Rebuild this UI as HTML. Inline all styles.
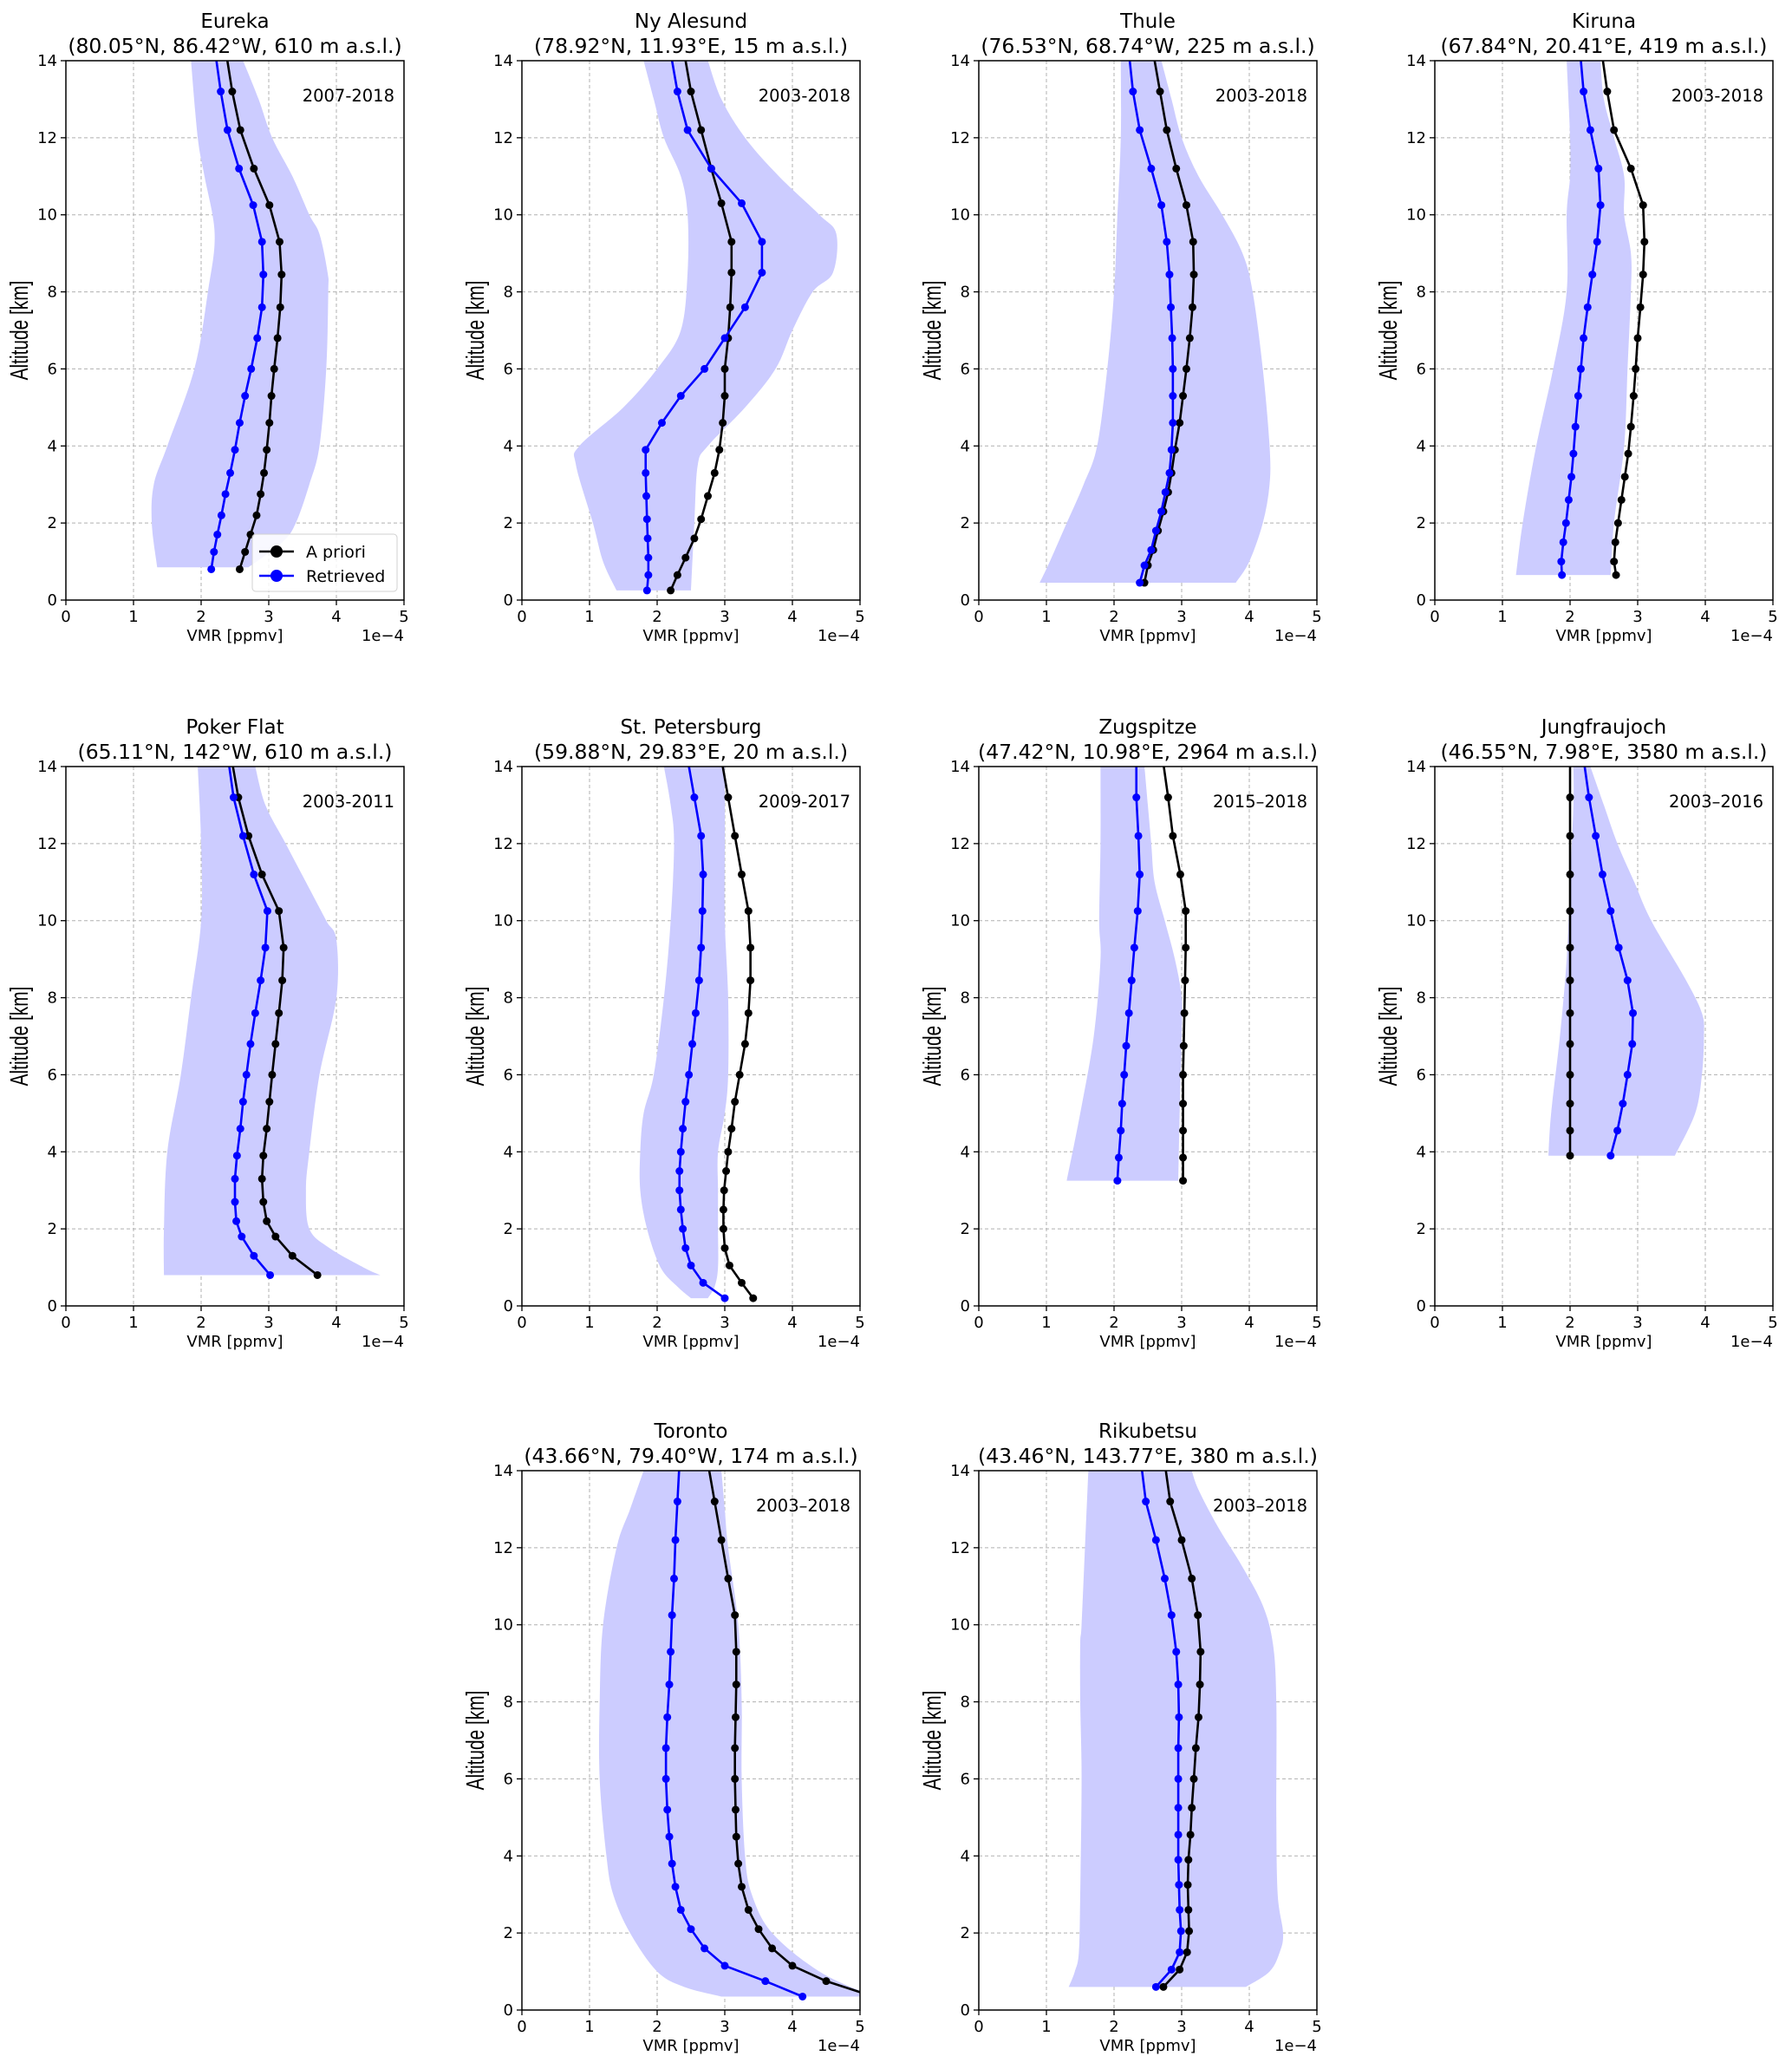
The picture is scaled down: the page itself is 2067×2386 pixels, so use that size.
<!DOCTYPE html>
<html><head><meta charset="utf-8"><style>
html,body{margin:0;padding:0;background:#fff;}
svg{display:block;font-family:"DejaVu Sans","Liberation Sans",sans-serif;}
</style></head><body>
<svg id="fig" width="2067" height="2386" viewBox="0 0 2067 2386" xmlns="http://www.w3.org/2000/svg"></svg>
<script>
// ---- data (VMR in units of 1e-4 ppmv, altitude km) ----
const stationNames = ["Eureka","Ny Alesund","Thule","Kiruna","Poker Flat","St. Petersburg","Zugspitze","Jungfraujoch","Toronto","Rikubetsu"];
const stationCoords = ["(80.05°N, 86.42°W, 610 m a.s.l.)","(78.92°N, 11.93°E, 15 m a.s.l.)","(76.53°N, 68.74°W, 225 m a.s.l.)","(67.84°N, 20.41°E, 419 m a.s.l.)","(65.11°N, 142°W, 610 m a.s.l.)","(59.88°N, 29.83°E, 20 m a.s.l.)","(47.42°N, 10.98°E, 2964 m a.s.l.)","(46.55°N, 7.98°E, 3580 m a.s.l.)","(43.66°N, 79.40°W, 174 m a.s.l.)","(43.46°N, 143.77°E, 380 m a.s.l.)"];
const periods = ["2007-2018","2003-2018","2003-2018","2003-2018","2003-2011","2009-2017","2015–2018","2003–2016","2003–2018","2003–2018"];
const xTicks = [0,1,2,3,4,5];
const yTicks = [0,2,4,6,8,10,12,14];

const altEureka = [0.8,1.25,1.7,2.2,2.75,3.3,3.9,4.6,5.3,6.0,6.8,7.6,8.45,9.3,10.25,11.2,12.2,13.2,14.2];
const aprEureka = [2.57,2.65,2.73,2.82,2.88,2.93,2.97,3.01,3.04,3.08,3.13,3.17,3.19,3.16,3.01,2.78,2.58,2.46,2.37];
const retEureka = [2.15,2.19,2.24,2.30,2.36,2.43,2.50,2.57,2.65,2.74,2.83,2.90,2.92,2.90,2.77,2.56,2.39,2.29,2.21];
const bandAltEureka = [0.85,2,3,4,6,8,9.5,11,12,14];
const bandLoEureka = [1.35,1.27,1.3,1.5,1.9,2.1,2.2,2.05,1.95,1.85];
const bandHiAltEureka = [0.85,1.5,2,3,4,6,8,8.5,9.5,10,11,12,13,14];
const bandHiEureka = [2.7,3.2,3.4,3.6,3.75,3.85,3.88,3.87,3.75,3.6,3.35,3.05,2.85,2.62];

const altNy = [0.25,0.65,1.1,1.6,2.1,2.7,3.3,3.9,4.6,5.3,6.0,6.8,7.6,8.5,9.3,10.3,11.2,12.2,13.2,14.2];
const aprNy = [2.2,2.3,2.42,2.55,2.65,2.75,2.85,2.92,2.97,3.0,3.0,3.05,3.08,3.1,3.1,2.95,2.8,2.65,2.5,2.4];
const retNy = [1.85,1.87,1.87,1.86,1.85,1.84,1.83,1.83,2.07,2.35,2.7,3.0,3.3,3.55,3.55,3.25,2.8,2.45,2.3,2.2];
const bandAltNy = [0.25,1,2,3.5,4,5,6,7,8.5,10,11,12,13,14];
const bandLoNy = [1.4,1.2,1.05,0.8,0.85,1.5,2.0,2.35,2.45,2.45,2.35,2.1,1.95,1.8];
const bandHiAltNy = [0.25,2,3.5,4,5,6,7,8,8.5,9.5,10,11,12,13,14];
const bandHiNy = [2.5,2.55,2.6,2.75,3.3,3.75,4.0,4.3,4.6,4.65,4.4,3.8,3.3,2.95,2.75];

const altThule = [0.45,0.9,1.3,1.8,2.3,2.8,3.3,3.9,4.6,5.3,6.0,6.8,7.6,8.45,9.3,10.25,11.2,12.2,13.2,14.2];
const aprThule = [2.45,2.5,2.58,2.65,2.73,2.8,2.85,2.9,2.97,3.02,3.07,3.12,3.16,3.18,3.17,3.07,2.92,2.78,2.68,2.58];
const retThule = [2.38,2.45,2.55,2.62,2.70,2.76,2.82,2.85,2.87,2.87,2.87,2.86,2.84,2.82,2.78,2.70,2.55,2.38,2.28,2.22];
const bandAltThule = [0.45,1,2,3,4,6,8,10,12,14];
const bandLoThule = [0.9,1.05,1.3,1.55,1.75,1.9,2.0,2.05,2.1,2.1];
const bandHiAltThule = [0.45,1,2,3,4,6,8,9,10,11,12,13,14];
const bandHiThule = [3.8,4.0,4.2,4.3,4.3,4.2,4.05,3.9,3.6,3.25,3.0,2.85,2.7];

const altKiruna = [0.65,1.0,1.5,2.0,2.6,3.2,3.8,4.5,5.3,6.0,6.8,7.6,8.45,9.3,10.25,11.2,12.2,13.2,14.2];
const aprKiruna = [2.68,2.65,2.67,2.71,2.76,2.81,2.86,2.9,2.94,2.97,3.0,3.04,3.08,3.1,3.08,2.9,2.65,2.55,2.47];
const retKiruna = [1.88,1.87,1.9,1.94,1.98,2.02,2.05,2.08,2.12,2.16,2.2,2.26,2.33,2.4,2.45,2.42,2.3,2.2,2.15];
const bandAltKiruna = [0.65,2,4,6,8,10,11,12,14];
const bandLoKiruna = [1.2,1.3,1.5,1.75,1.95,1.95,2.0,2.0,1.95];
const bandHiAltKiruna = [0.65,2,4,6,8,9,10,11,12,13,14];
const bandHiKiruna = [2.6,2.65,2.8,2.85,2.9,2.9,2.8,2.8,2.65,2.5,2.45];

const altPoker = [0.8,1.3,1.8,2.2,2.7,3.3,3.9,4.6,5.3,6.0,6.8,7.6,8.45,9.3,10.25,11.2,12.2,13.2,14.2];
const aprPoker = [3.72,3.35,3.1,2.97,2.92,2.9,2.92,2.97,3.01,3.05,3.1,3.15,3.2,3.22,3.15,2.9,2.7,2.55,2.45];
const retPoker = [3.02,2.78,2.6,2.52,2.5,2.5,2.53,2.58,2.62,2.67,2.73,2.8,2.88,2.95,2.98,2.78,2.62,2.48,2.4];
const bandAltPoker = [0.8,2,4,6,8,10,12,14];
const bandLoPoker = [1.45,1.45,1.5,1.7,1.85,2.0,2.0,1.95];
const bandHiAltPoker = [0.8,1,1.5,2,3,4,6,8,9.5,10,11,12,13,14];
const bandHiPoker = [4.65,4.4,3.9,3.6,3.55,3.6,3.75,4.0,4.0,3.85,3.55,3.25,2.95,2.8];

const altStP = [0.2,0.6,1.05,1.5,2.0,2.5,3.0,3.5,4.0,4.6,5.3,6.0,6.8,7.6,8.45,9.3,10.25,11.2,12.2,13.2,14.2];
const aprStP = [3.42,3.25,3.07,3.0,2.98,2.98,2.99,3.02,3.05,3.1,3.15,3.22,3.3,3.35,3.38,3.38,3.35,3.25,3.15,3.05,2.95];
const retStP = [3.0,2.68,2.5,2.42,2.38,2.35,2.33,2.33,2.35,2.38,2.42,2.47,2.52,2.57,2.62,2.65,2.67,2.68,2.65,2.55,2.45];
const bandAltStP = [0.2,0.5,1,2,3,4,5,6,8,10,12,13,14];
const bandLoStP = [2.5,2.3,2.05,1.85,1.75,1.75,1.8,1.95,2.1,2.2,2.25,2.2,2.1];
const bandHiAltStP = [0.2,0.5,1,2,3,4,5,6,8,10,12,14];
const bandHiStP = [2.75,2.85,2.9,2.9,2.9,2.9,3.0,3.05,3.05,3.0,3.0,3.0];

const altZug = [3.25,3.85,4.55,5.25,6.0,6.75,7.6,8.45,9.3,10.25,11.2,12.2,13.2,14.2];
const aprZug = [3.02,3.02,3.02,3.02,3.02,3.03,3.04,3.05,3.06,3.06,2.98,2.87,2.8,2.72];
const retZug = [2.05,2.07,2.1,2.12,2.15,2.18,2.22,2.26,2.3,2.35,2.38,2.36,2.33,2.33];
const bandAltZug = [3.25,5,7,9,10,12,14];
const bandLoZug = [1.3,1.5,1.7,1.8,1.78,1.8,1.8];
const bandHiAltZug = [3.25,5,7,8,9,10,11,12,13,14];
const bandHiZug = [2.95,2.97,3.0,3.0,2.9,2.75,2.6,2.55,2.5,2.45];

const altJung = [3.9,4.55,5.25,6.0,6.8,7.6,8.45,9.3,10.25,11.2,12.2,13.2,14.2];
const aprJung = [2.0,2.0,2.0,2.0,2.0,2.0,2.0,2.0,2.0,2.0,2.0,2.0,2.0];
const retJung = [2.6,2.7,2.78,2.85,2.92,2.93,2.85,2.72,2.6,2.48,2.38,2.28,2.2];
const bandAltJung = [3.9,5,7,9,11,13,14];
const bandLoJung = [1.68,1.72,1.85,1.95,2.0,2.05,2.05];
const bandHiAltJung = [3.9,5,6,7,7.6,8.5,10,11,12,13,14];
const bandHiJung = [3.55,3.85,3.95,3.98,3.95,3.7,3.2,2.95,2.7,2.5,2.3];

const altTor = [0.35,0.75,1.15,1.6,2.1,2.6,3.2,3.8,4.5,5.2,6.0,6.8,7.6,8.45,9.3,10.25,11.2,12.2,13.2,14.2];
const aprTor = [5.2,4.5,4.0,3.7,3.5,3.35,3.25,3.2,3.17,3.16,3.15,3.15,3.16,3.17,3.17,3.15,3.05,2.95,2.85,2.75];
const retTor = [4.15,3.6,3.0,2.7,2.5,2.35,2.27,2.22,2.18,2.15,2.13,2.13,2.15,2.18,2.2,2.22,2.25,2.27,2.3,2.33];
const bandAltTor = [0.35,0.6,1,2,3,4,6,8,10,12,13,14];
const bandLoTor = [2.95,2.4,2.0,1.6,1.35,1.25,1.15,1.15,1.2,1.4,1.6,1.8];
const bandHiAltTor = [0.35,1,2,3,4,6,8,10,12,13,14];
const bandHiTor = [5.2,4.4,3.7,3.4,3.3,3.25,3.25,3.2,3.05,3.0,2.95];

const altRiku = [0.6,1.05,1.5,2.05,2.6,3.25,3.9,4.55,5.25,6.0,6.8,7.6,8.45,9.3,10.25,11.2,12.2,13.2,14.2];
const aprRiku = [2.73,2.97,3.08,3.11,3.1,3.09,3.1,3.13,3.15,3.18,3.21,3.25,3.27,3.28,3.24,3.15,3.0,2.83,2.75];
const retRiku = [2.62,2.85,2.97,2.99,2.97,2.96,2.95,2.95,2.95,2.95,2.95,2.96,2.95,2.92,2.85,2.75,2.62,2.47,2.4];
const bandAltRiku = [0.6,1,1.5,3,6,8,9.5,10,12,14];
const bandLoRiku = [1.33,1.42,1.48,1.5,1.52,1.5,1.5,1.52,1.57,1.62];
const bandHiAltRiku = [0.6,1,1.5,2,3,5,8,9.5,10.5,11.5,12.5,13.5,14];
const bandHiRiku = [3.95,4.3,4.45,4.5,4.42,4.4,4.4,4.35,4.2,3.9,3.55,3.25,3.15];

const panels = [
 {alt:altEureka,apr:aprEureka,ret:retEureka,bla:bandAltEureka,blo:bandLoEureka,bha:bandHiAltEureka,bhi:bandHiEureka,col:0,row:0,legend:true},
 {alt:altNy,apr:aprNy,ret:retNy,bla:bandAltNy,blo:bandLoNy,bha:bandHiAltNy,bhi:bandHiNy,col:1,row:0},
 {alt:altThule,apr:aprThule,ret:retThule,bla:bandAltThule,blo:bandLoThule,bha:bandHiAltThule,bhi:bandHiThule,col:2,row:0},
 {alt:altKiruna,apr:aprKiruna,ret:retKiruna,bla:bandAltKiruna,blo:bandLoKiruna,bha:bandHiAltKiruna,bhi:bandHiKiruna,col:3,row:0},
 {alt:altPoker,apr:aprPoker,ret:retPoker,bla:bandAltPoker,blo:bandLoPoker,bha:bandHiAltPoker,bhi:bandHiPoker,col:0,row:1},
 {alt:altStP,apr:aprStP,ret:retStP,bla:bandAltStP,blo:bandLoStP,bha:bandHiAltStP,bhi:bandHiStP,col:1,row:1},
 {alt:altZug,apr:aprZug,ret:retZug,bla:bandAltZug,blo:bandLoZug,bha:bandHiAltZug,bhi:bandHiZug,col:2,row:1},
 {alt:altJung,apr:aprJung,ret:retJung,bla:bandAltJung,blo:bandLoJung,bha:bandHiAltJung,bhi:bandHiJung,col:3,row:1},
 {alt:altTor,apr:aprTor,ret:retTor,bla:bandAltTor,blo:bandLoTor,bha:bandHiAltTor,bhi:bandHiTor,col:1,row:2},
 {alt:altRiku,apr:aprRiku,ret:retRiku,bla:bandAltRiku,blo:bandLoRiku,bha:bandHiAltRiku,bhi:bandHiRiku,col:2,row:2}
];

const NS = "http://www.w3.org/2000/svg";
const svg = document.getElementById('fig');
const colLefts = [76,602,1129,1655];
const rowTops = [70,884,1696];
const W = 390, H = 622;
function mk(tag, attrs, parent){
  const e = document.createElementNS(NS, tag);
  for (const k in attrs) e.setAttribute(k, attrs[k]);
  parent.appendChild(e);
  return e;
}
function slug(s){return s.toLowerCase().replace(/[^a-z]+/g,'-').replace(/^-|-$/g,'');}
// smooth curve segments (Catmull-Rom -> Bezier), starting after first point
function smoothSeg(pts){
  let d = '';
  for (let i = 0; i < pts.length - 1; i++) {
    const p0 = pts[Math.max(0, i-1)], p1 = pts[i], p2 = pts[i+1], p3 = pts[Math.min(pts.length-1, i+2)];
    const c1x = p1[0] + (p2[0]-p0[0])/6, c1y = p1[1] + (p2[1]-p0[1])/6;
    const c2x = p2[0] - (p3[0]-p1[0])/6, c2y = p2[1] - (p3[1]-p1[1])/6;
    d += ' C' + c1x + ',' + c1y + ' ' + c2x + ',' + c2y + ' ' + p2[0] + ',' + p2[1];
  }
  return d;
}

panels.forEach((p, i) => {
  const L = colLefts[p.col], T = rowTops[p.row];
  const sx = v => L + v / 5 * W;
  const sy = a => T + H - a / 14 * H;
  const nm = slug(stationNames[i]);
  const g = mk('g', {}, svg);
  
  
  const cid = 'clip' + i;
  const cp = mk('clipPath', {id: cid}, g);
  mk('rect', {x: L, y: T, width: W, height: H}, cp);
  xTicks.slice(1,5).forEach(t => {
    const l = mk('line', {x1: sx(t), x2: sx(t), y1: T, y2: T+H, stroke: '#b0b0b0', 'stroke-width': 1, 'stroke-dasharray': '4,3'}, g);
    
    
  });
  yTicks.slice(1,7).forEach(t => {
    const l = mk('line', {x1: L, x2: L+W, y1: sy(t), y2: sy(t), stroke: '#b0b0b0', 'stroke-width': 1, 'stroke-dasharray': '4,3'}, g);
    
    
  });
  // band (smoothed edges)
  const lo = p.bla.map((a, k) => [sx(p.blo[k]), sy(a)]);
  const hi = p.bha.map((a, k) => [sx(p.bhi[k]), sy(a)]).reverse();
  const bd = 'M' + lo[0][0] + ',' + lo[0][1] + smoothSeg(lo) + ' L' + hi[0][0] + ',' + hi[0][1] + smoothSeg(hi) + ' Z';
  const band = mk('path', {d: bd, fill: 'rgb(204,204,255)', 'clip-path': 'url(#' + cid + ')'}, g);
  
  
  [[p.apr, '#000000', 'a-priori'], [p.ret, '#0000ff', 'retrieved']].forEach(([vals, col, sn]) => {
    const sg = mk('g', {'clip-path': 'url(#' + cid + ')'}, g);
    
    
    const d = p.alt.map((a, k) => sx(vals[k]) + ',' + sy(a)).join(' ');
    const pl = mk('polyline', {points: d, fill: 'none', stroke: col, 'stroke-width': 2.6}, sg);
    
    
    p.alt.forEach((a, k) => {
      if (a > 13.8) return;
      const c = mk('circle', {cx: sx(vals[k]), cy: sy(a), r: 4.5, fill: col}, sg);
      
      
    });
  });
  const fr = mk('rect', {x: L, y: T, width: W, height: H, fill: 'none', stroke: '#000', 'stroke-width': 1.5}, g);
  
  
  xTicks.forEach(t => {
    mk('line', {x1: sx(t), x2: sx(t), y1: T+H, y2: T+H+6, stroke: '#000', 'stroke-width': 1.3}, g);
    const tx = mk('text', {x: sx(t), y: T+H+25, 'font-size': 18, 'text-anchor': 'middle'}, g);
    tx.textContent = t;
    
    
  });
  yTicks.forEach(t => {
    mk('line', {x1: L-6, x2: L, y1: sy(t), y2: sy(t), stroke: '#000', 'stroke-width': 1.3}, g);
    const tx = mk('text', {x: L-10, y: sy(t)+6, 'font-size': 18, 'text-anchor': 'end'}, g);
    tx.textContent = t;
    
    
  });
  const xl = mk('text', {x: L+W/2, y: T+H+47, 'font-size': 18, 'text-anchor': 'middle'}, g);
  xl.textContent = 'VMR [ppmv]';
  
  
  const ex = mk('text', {x: L+W, y: T+H+47, 'font-size': 18, 'text-anchor': 'end'}, g);
  ex.textContent = '1e−4';
  
  
  const yl = mk('text', {x: 0, y: 0, 'font-size': 29, 'text-anchor': 'middle', transform: 'translate(' + (L-44) + ',' + (T+H/2) + ') rotate(-90) scale(0.72,1)', 'font-family': '"Liberation Sans Narrow","Liberation Sans",sans-serif'}, g);
  yl.textContent = 'Altitude [km]';
  
  
  const t1 = mk('text', {x: L+W/2, y: T-38, 'font-size': 23, 'text-anchor': 'middle'}, g);
  t1.textContent = stationNames[i];
  
  
  const t2 = mk('text', {x: L+W/2, y: T-9, 'font-size': 23.5, 'text-anchor': 'middle'}, g);
  t2.textContent = stationCoords[i];
  
  
  const pe = mk('text', {x: L+W-11, y: T+47, 'font-size': 19.5, 'text-anchor': 'end'}, g);
  pe.textContent = periods[i];
  
  
  if (p.legend) {
    const lg = mk('g', {}, g);
    
    
    const lx = L + 215, ly = T + 546;
    mk('rect', {x: lx, y: ly, width: 167, height: 66, rx: 4, fill: '#fff', 'fill-opacity': 0.85, stroke: '#d0d0d0'}, lg);
    [['A priori', '#000'], ['Retrieved', '#00f']].forEach(([lab, col], k) => {
      const yy = ly + 20 + k * 28;
      const e = mk('g', {}, lg);
      
      
      mk('line', {x1: lx+8, x2: lx+48, y1: yy, y2: yy, stroke: col, 'stroke-width': 2.6}, e);
      mk('circle', {cx: lx+28, cy: yy, r: 7, fill: col}, e);
      const tt = mk('text', {x: lx+62, y: yy+7, 'font-size': 19}, e);
      tt.textContent = lab;
    });
  }
});
</script>
</body></html>
